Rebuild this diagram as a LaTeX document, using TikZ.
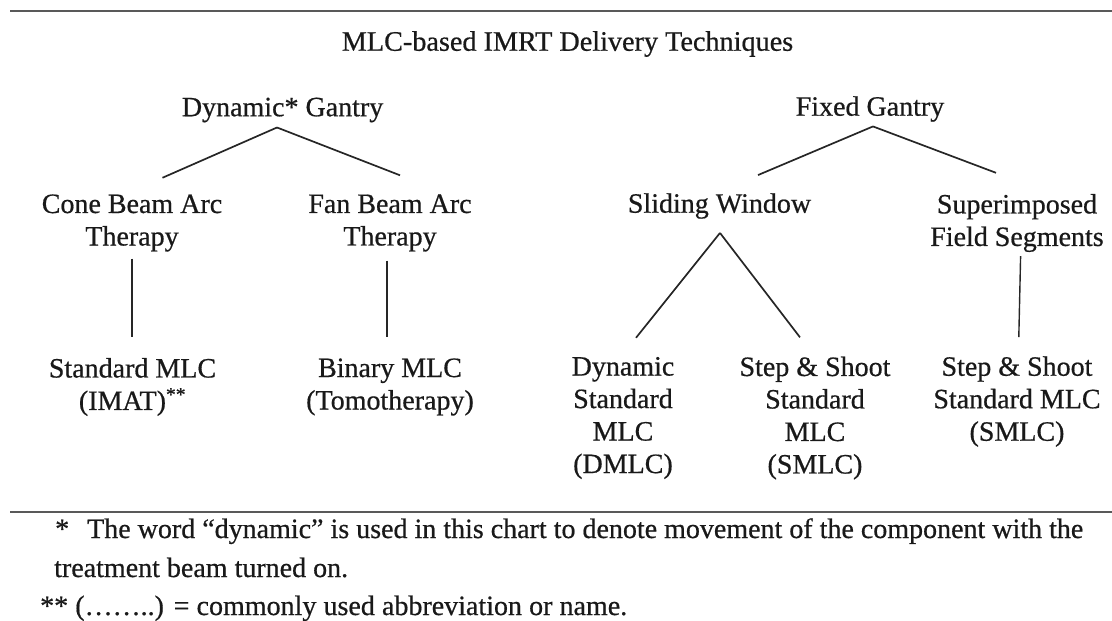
\documentclass[tikz,border=0pt]{standalone}
\usepackage{fontspec}
\setmainfont{Liberation Serif}[FakeBold=0.6]
\begin{document}
\begin{tikzpicture}[x=1pt,y=-1pt,
  lbl/.style={align=center, inner sep=3pt, text=black!90, font=\fontsize{28}{32.5}\selectfont},
  fnote/.style={anchor=base west, inner sep=0pt, text=black!90, font=\fontsize{28}{32}\selectfont},
  conn/.style={line width=1.7pt, black!85},
  rule/.style={black!65}]
\useasboundingbox (0,0) rectangle (1112,621);
% rules
\draw[rule, line width=2.2pt] (10,11) -- (1112,11);
\draw[rule, line width=1.6pt] (10,512) -- (1112,512);
% nodes
\node[lbl, font=\fontsize{28.2}{34}\selectfont] (title) at (567.5,44) {MLC-based IMRT Delivery Techniques};
\node[lbl] (dg) at (282.6,110) {Dynamic* Gantry};
\node[lbl] (fg) at (870,109) {Fixed Gantry};
\node[lbl] (cone) at (132,223) {Cone Beam Arc\\Therapy};
\node[lbl] (fan) at (390,223) {Fan Beam Arc\\Therapy};
\node[lbl] (sw) at (719.5,206) {Sliding Window};
\node[lbl] (sup) at (1017,223) {Superimposed\\Field Segments};
\node[lbl] (smlc) at (132.5,387) {Standard MLC\\(IMAT)\textsuperscript{**}};
\node[lbl] (bmlc) at (390,387) {Binary MLC\\(Tomotherapy)};
\node[lbl] (dmlc) at (623,418) {Dynamic\\Standard\\MLC\\(DMLC)};
\node[lbl] (sss) at (815,418) {Step \& Shoot\\Standard\\MLC\\(SMLC)};
\node[lbl] (ss2) at (1017,401.5) {Step \& Shoot\\Standard MLC\\(SMLC)};
% connectors
\draw[conn] ([xshift=-5.6pt,yshift=-2pt]dg.south) -- ([xshift=30.5pt,yshift=13.5pt]cone.north);
\draw[conn] ([xshift=-5.6pt,yshift=-2pt]dg.south) -- ([xshift=10pt,yshift=16pt]fan.north);
\draw[conn] ([xshift=3pt,yshift=-1.5pt]fg.south) -- ([xshift=38.5pt,yshift=15pt]sw.north);
\draw[conn] ([xshift=3pt,yshift=-1.5pt]fg.south) -- ([xshift=-21pt,yshift=18pt]sup.north);
\draw[conn] ([xshift=0.5pt,yshift=-11pt]sw.south) -- ([xshift=13pt,yshift=16pt]dmlc.north);
\draw[conn] ([xshift=0.5pt,yshift=-11pt]sw.south) -- ([xshift=-15pt,yshift=16pt]sss.north);
\draw[conn, line width=1.4pt] ([yshift=-4pt]cone.south) -- ([xshift=-0.5pt,yshift=18pt]smlc.north);
\draw[conn, line width=1.4pt] ([xshift=-3pt,yshift=-6pt]fan.south) -- ([xshift=-3pt,yshift=18pt]bmlc.north);
\draw[conn, line width=1.4pt] ([xshift=3.6pt,yshift=-1pt]sup.south) -- ([xshift=1.8pt,yshift=16pt]ss2.north);
% footnotes
\node[fnote] (fn1) at (55,538) {\hbox to 1028pt{*\hspace{18pt}The word “dynamic” is used in this chart to denote movement of the component with the}};
\node[fnote] (fn2) at (54,577) {treatment beam turned on.};
\node[fnote] (fn3) at (40,615) {\hbox to 587pt{** (……..) = commonly used abbreviation or name.}};
\end{tikzpicture}
\end{document}
